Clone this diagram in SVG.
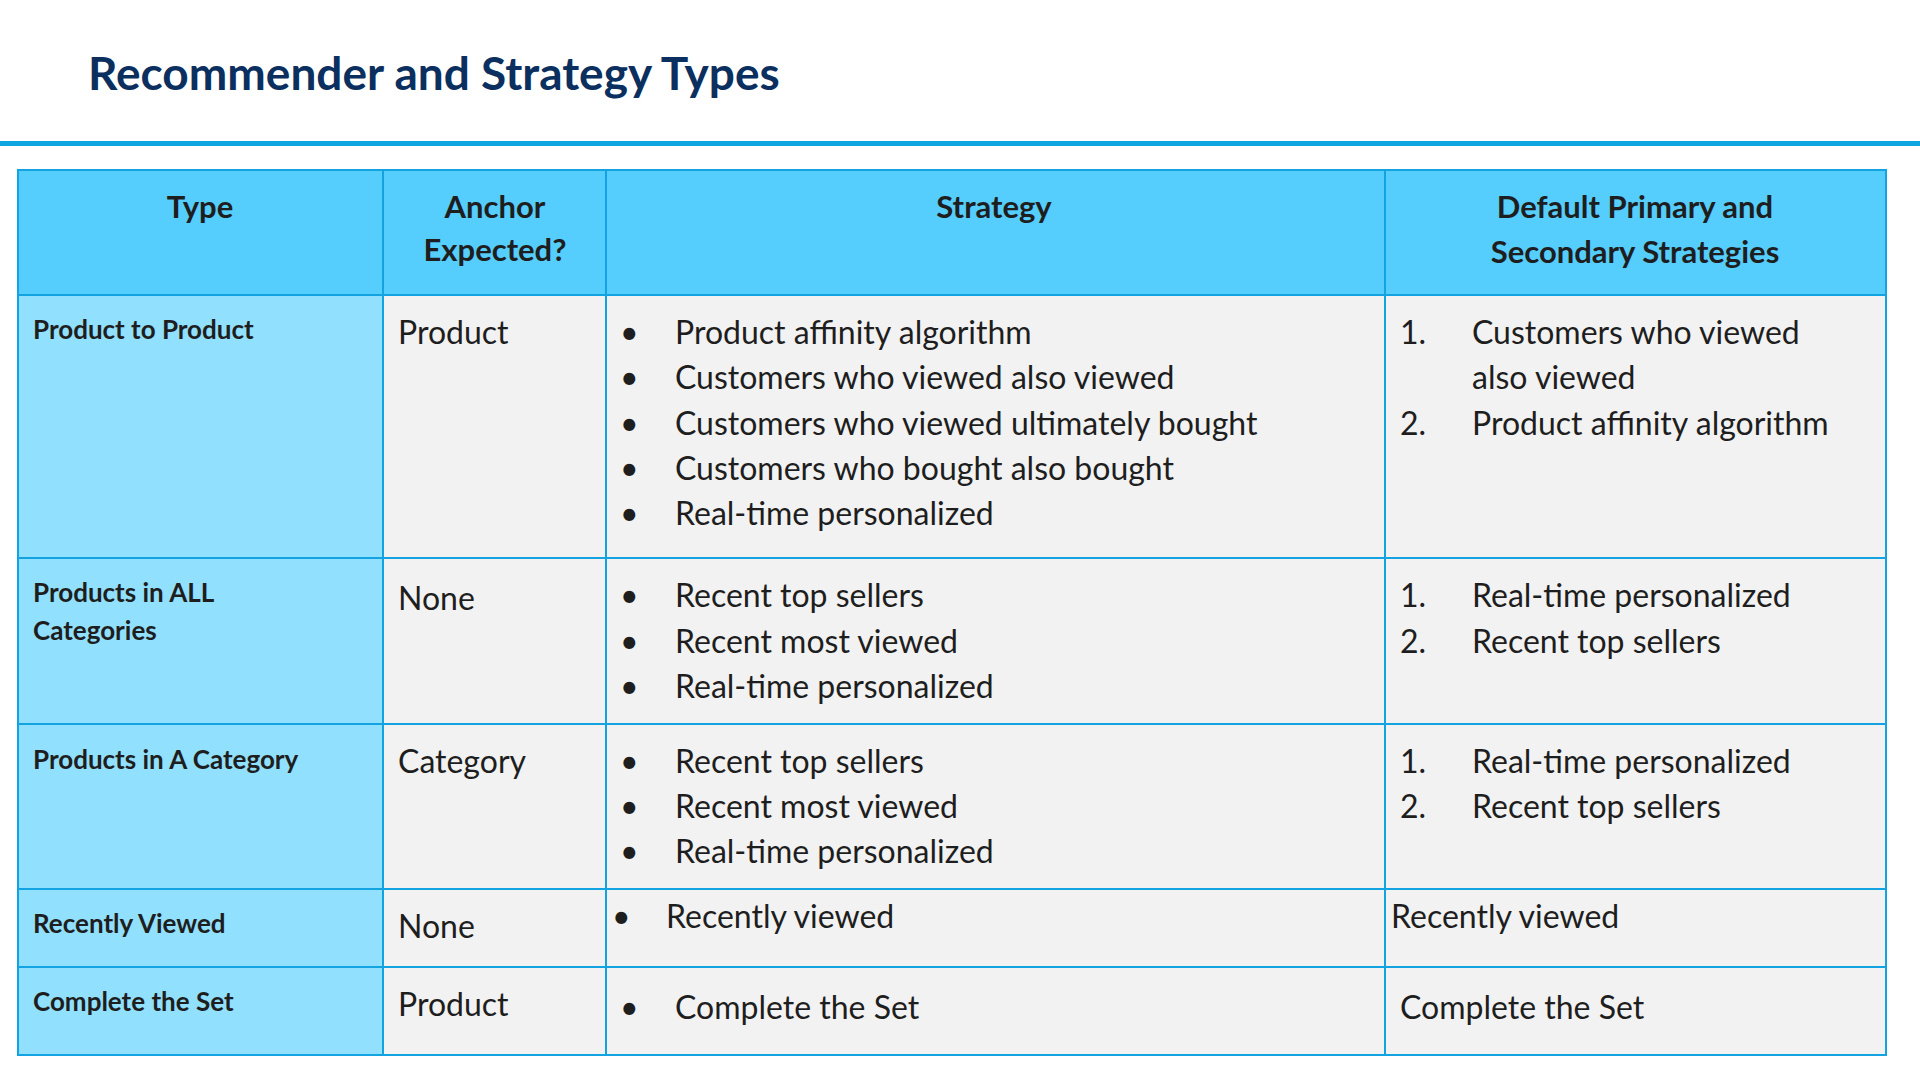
<svg xmlns="http://www.w3.org/2000/svg" width="1920" height="1080" viewBox="0 0 1920 1080">
<style>
.t{font-family:Lato,"Open Sans",sans-serif;fill:#1e1e1e}
.h{font-weight:bold;font-size:31px}
.c1{font-weight:bold;font-size:26px}
.b{font-size:32px}
.ln{stroke:#12a3e0;stroke-width:2;fill:none}
</style>
<rect width="1920" height="1080" fill="#fff"/>
<text x="88" y="90" font-family="Lato,'Open Sans',sans-serif" font-weight="bold" font-size="46" fill="#0b2f5e">Recommender and Strategy Types</text>
<rect x="0" y="141" width="1920" height="5" fill="#0ea5e0"/>
<g id="table">
<rect x="18" y="170" width="1868" height="125" fill="#55cdfd"/>
<rect x="18" y="295" width="365" height="760" fill="#91e0fd"/>
<rect x="383" y="295" width="1503" height="760" fill="#f2f2f2"/>
<g class="ln">
<rect x="18" y="170" width="1868" height="885"/>
<path d="M383 170V1055M606 170V1055M1385 170V1055M18 295H1886M18 558H1886M18 724H1886M18 889H1886M18 967H1886"/>
</g>
</g>
<g id="header" class="t h" text-anchor="middle">
<text x="200" y="218">Type</text>
<text x="495" y="218">Anchor</text><text x="495" y="261">Expected?</text>
<text x="994" y="218">Strategy</text>
<text x="1635" y="218">Default Primary and</text><text x="1635" y="263">Secondary Strategies</text>
</g>
<g id="row1" class="t">
<text class="c1" x="33" y="339">Product to Product</text>
<text class="b" x="398" y="344">Product</text>
<g class="b"><text x="620" y="344">•</text><text x="620" y="389">•</text><text x="620" y="435">•</text><text x="620" y="480">•</text><text x="620" y="525">•</text>
<text x="675" y="344">Product affinity algorithm</text><text x="675" y="389">Customers who viewed also viewed</text><text x="675" y="435">Customers who viewed ultimately bought</text><text x="675" y="480">Customers who bought also bought</text><text x="675" y="525">Real-time personalized</text>
<text x="1400" y="344">1.</text><text x="1472" y="344">Customers who viewed</text><text x="1472" y="389">also viewed</text>
<text x="1400" y="435">2.</text><text x="1472" y="435">Product affinity algorithm</text></g>
</g>
<g id="row2" class="t">
<text class="c1" x="33" y="602">Products in ALL</text><text class="c1" x="33" y="640">Categories</text>
<text class="b" x="398" y="610">None</text>
<g class="b"><text x="620" y="607">•</text><text x="620" y="653">•</text><text x="620" y="698">•</text>
<text x="675" y="607">Recent top sellers</text><text x="675" y="653">Recent most viewed</text><text x="675" y="698">Real-time personalized</text>
<text x="1400" y="607">1.</text><text x="1472" y="607">Real-time personalized</text><text x="1400" y="653">2.</text><text x="1472" y="653">Recent top sellers</text></g>
</g>
<g id="row3" class="t">
<text class="c1" x="33" y="769">Products in A Category</text>
<text class="b" x="398" y="773">Category</text>
<g class="b"><text x="620" y="773">•</text><text x="620" y="818">•</text><text x="620" y="863">•</text>
<text x="675" y="773">Recent top sellers</text><text x="675" y="818">Recent most viewed</text><text x="675" y="863">Real-time personalized</text>
<text x="1400" y="773">1.</text><text x="1472" y="773">Real-time personalized</text><text x="1400" y="818">2.</text><text x="1472" y="818">Recent top sellers</text></g>
</g>
<g id="row4" class="t">
<text class="c1" x="33" y="933">Recently Viewed</text>
<text class="b" x="398" y="938">None</text>
<g class="b"><text x="612" y="928">•</text><text x="666" y="928">Recently viewed</text><text x="1391" y="928">Recently viewed</text></g>
</g>
<g id="row5" class="t">
<text class="c1" x="33" y="1011">Complete the Set</text>
<text class="b" x="398" y="1016">Product</text>
<g class="b"><text x="620" y="1019">•</text><text x="675" y="1019">Complete the Set</text><text x="1400" y="1019">Complete the Set</text></g>
</g>
</svg>
